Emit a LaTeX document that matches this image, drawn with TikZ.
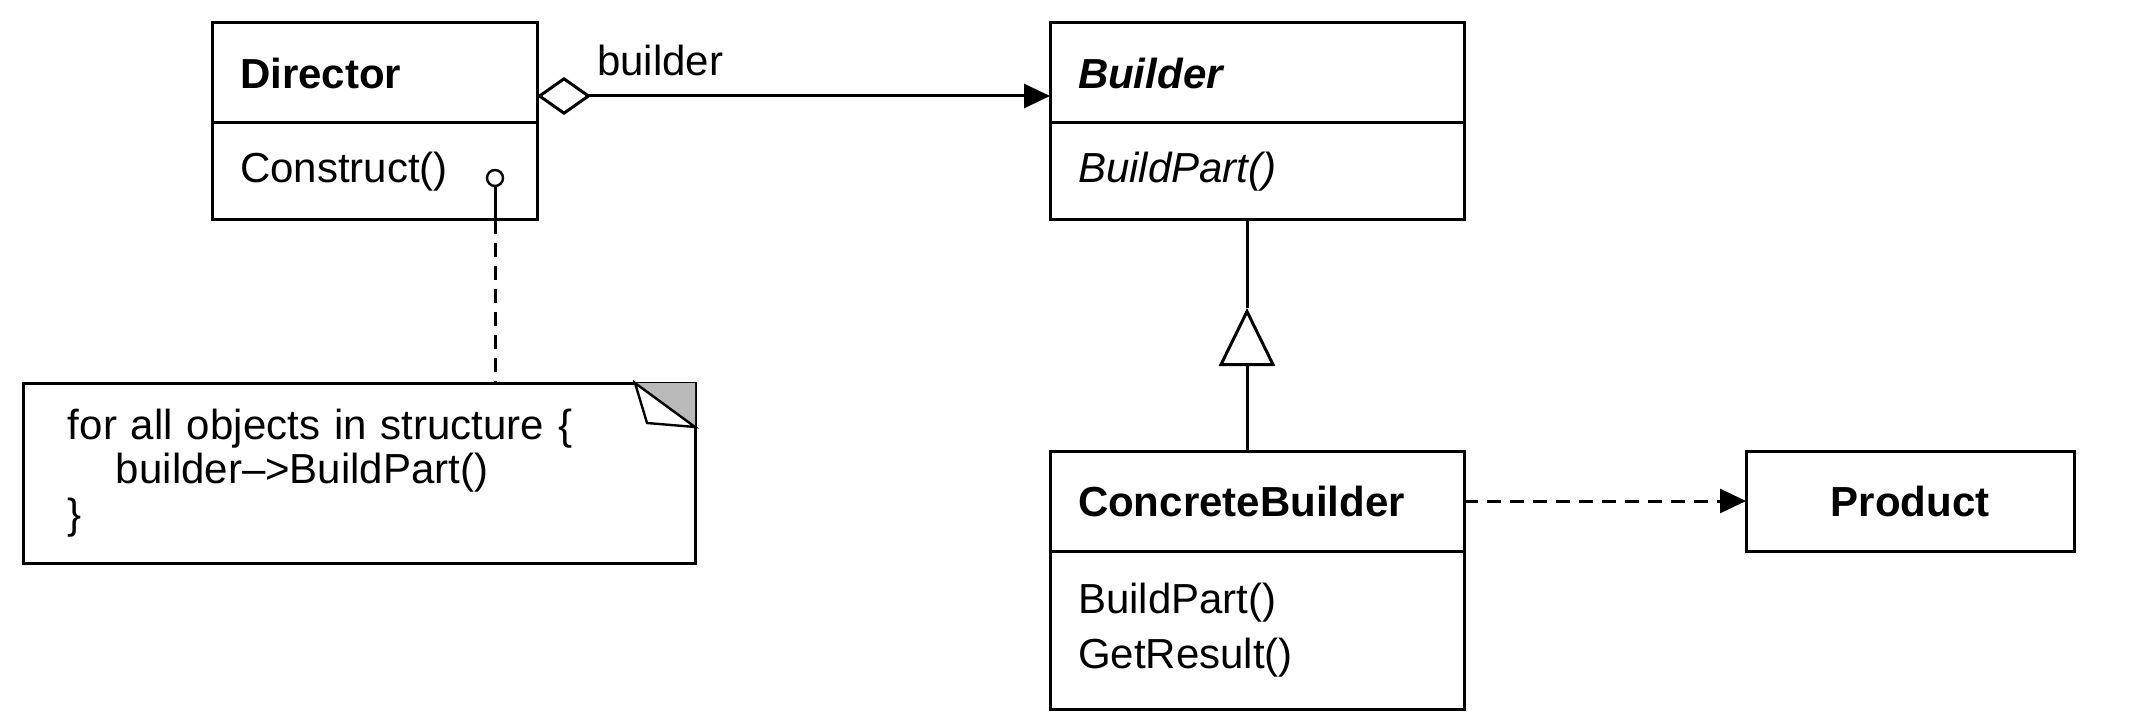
\documentclass[tikz,border=0pt]{standalone}
\usepackage{fontspec}
\setmainfont{Liberation Sans}
\usetikzlibrary{arrows.meta,positioning}

\begin{document}
\begin{tikzpicture}[x=0.5pt, y=-0.5pt,
    box/.style={draw, line width=1.5pt, outer sep=0pt, inner xsep=14pt, inner ysep=0pt,
      align=left, text width=#1, font=\fontsize{21}{27.5}\selectfont},
    hd/.style={box=#1, minimum height=50pt},
    ln/.style={line width=1.5pt},
    dsh/.style={ln, dash pattern=on 7pt off 4.5pt},
    tip/.style={-{Triangle[length=13pt, width=12pt]}}]
  \useasboundingbox (0,0) rectangle (2144,722);

  \node[hd=134.5pt, anchor=north west] (dirh) at (212,23) {\textbf{Director}};
  \node[box=134.5pt, minimum height=48.5pt, below=0pt of dirh] (dirb) {Construct()};
  \node[hd=179pt, anchor=north west] (bldh) at (1050,23) {\textbf{\textit{Builder}}};
  \node[box=179pt, minimum height=48.5pt, below=0pt of bldh] (bldb) {\textit{BuildPart()}};
  \node[hd=179pt, anchor=north west] (cbh) at (1050,451) {\textbf{ConcreteBuilder}};
  \node[box=179pt, minimum height=79pt, below=0pt of cbh] (cbb) {BuildPart()\\GetResult()};
  \node[hd=136pt, align=center, anchor=north west] (prod) at (1746,451) {\textbf{Product}};

  \node[box=291pt, inner xsep=22.5pt, minimum height=90pt,
        font=\fontsize{21}{22.25}\selectfont, anchor=north west] (note) at (23,383)
       {for all objects in structure \{\\\hspace*{24pt}builder-->BuildPart()\\\}};
  \fill[gray!55] ([xshift=-30pt]note.north east) -- (note.north east)
       -- ([yshift=-22pt]note.north east) -- cycle;
  \draw[line width=1.2pt, fill=white] ([xshift=-30pt]note.north east)
       -- ([xshift=-24pt, yshift=-20pt]note.north east) -- ([yshift=-22pt]note.north east) -- cycle;

  \node[draw, circle, line width=1.2pt, minimum size=8pt, inner sep=0pt] (hook) at (495,178) {};
  \draw[ln] (hook.south) -- (hook.south |- dirb.south);
  \draw[dsh] (hook.south |- dirb.south) -- (hook.south |- note.north);

  \draw[ln, {Diamond[open, length=27pt, width=19pt]}-{Triangle[length=13pt, width=12pt]}]
       ([yshift=-11.5pt]dirh.east) -- node[pos=0.24, above=6pt, font=\fontsize{21}{25}\selectfont] (role) {builder}
       ([yshift=-11.5pt]bldh.west);

  \coordinate (apex) at (1247,308);
  \draw[ln] (apex) -- (apex |- bldb.south);
  \draw[ln, -{Triangle[open, length=29pt, width=28pt]}] (apex |- cbh.north) -- (apex);

  \draw[dsh, tip] (cbh.east) -- (prod.west);
\end{tikzpicture}
\end{document}
